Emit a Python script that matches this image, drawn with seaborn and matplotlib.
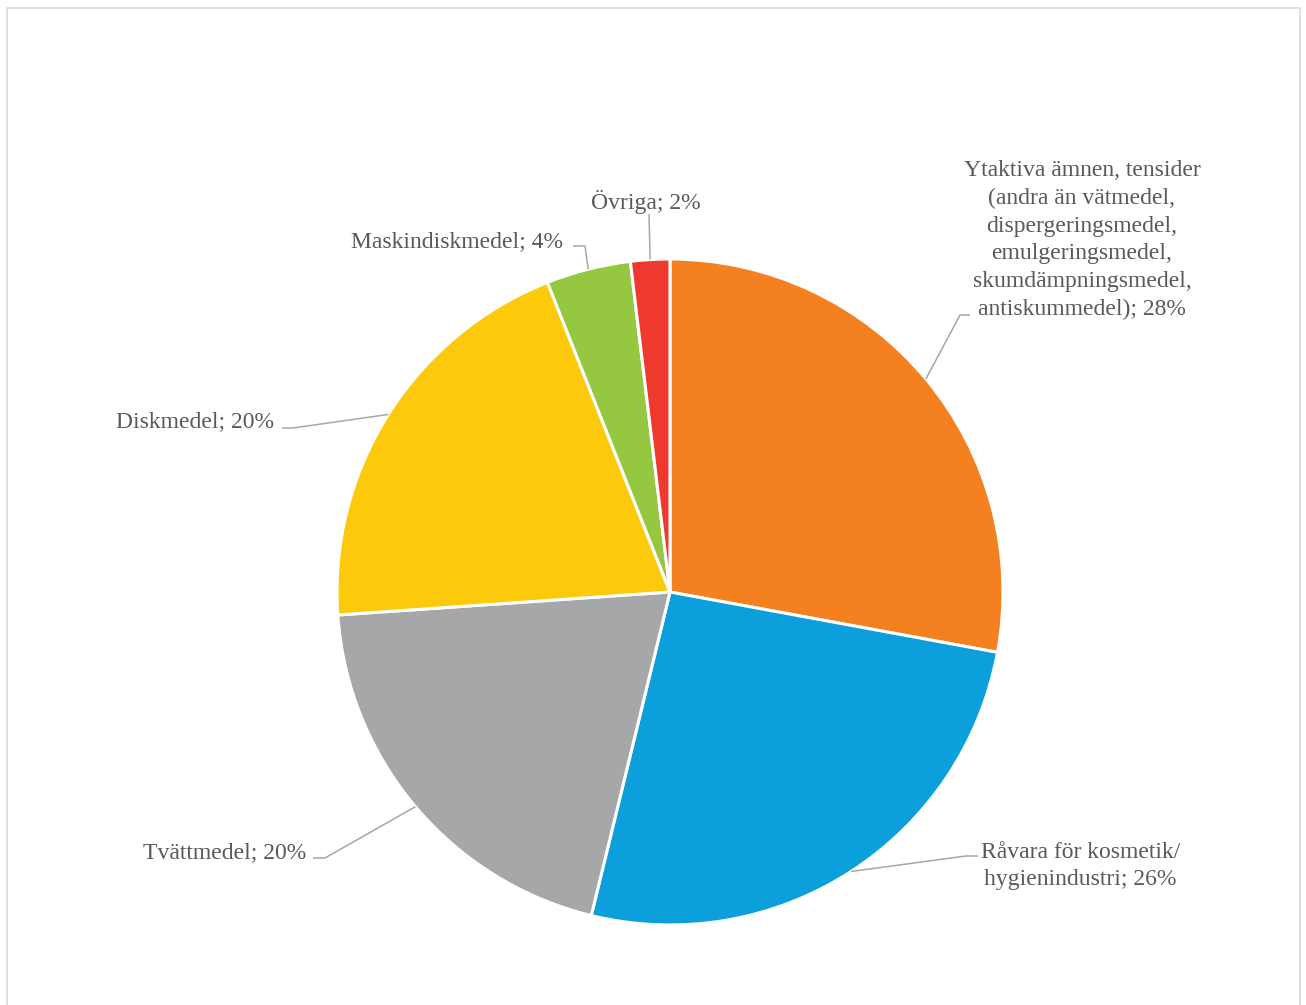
import numpy as np
import matplotlib
matplotlib.use('Agg')
import matplotlib.pyplot as plt
from matplotlib.patches import Rectangle
import seaborn as sns

sns.set_theme(style='white')
plt.rcParams['font.family'] = ['Liberation Serif', 'DejaVu Serif']

# data
categories = ['Ytaktiva ämnen, tensider\n(andra än vätmedel,\ndispergeringsmedel,\nemulgeringsmedel,\nskumdämpningsmedel,\nantiskummedel)',
              'Råvara för kosmetik/\nhygienindustri',
              'Tvättmedel',
              'Diskmedel',
              'Maskindiskmedel',
              'Övriga']
shares = [27.9, 25.9, 20.1, 20.1, 4.1, 1.9]
colors = ['#F58020', '#0B9FDB', '#A6A7A9', '#FCC90B', '#95C840', '#EE3A2E']

# label layout (pixel coords): text anchor, ha, elbow point, line end
label_layout = [
    dict(xy=(1082, 240), ha='center', elbow=(960, 315), end=(970, 315)),
    dict(xy=(981, 866), ha='left', elbow=(966, 856), end=(978, 856)),
    dict(xy=(306, 853), ha='right', elbow=(325, 858), end=(313, 858)),
    dict(xy=(274, 422), ha='right', elbow=(293, 428), end=(282, 428)),
    dict(xy=(563, 242), ha='right', elbow=(585, 246), end=(573, 246)),
    dict(xy=(646, 202), ha='center', elbow=(649, 214), end=(649, 214)),
]

W, H = 1306, 1005
fig = plt.figure(figsize=(W / 100, H / 100), dpi=100)
ax = fig.add_axes([0, 0, 1, 1])

text_col = '#595959'
line_col = '#A6A6A6'

wedges, _ = ax.pie(shares, colors=colors, startangle=-90, counterclock=True,
                   center=(670, 592), radius=333,
                   wedgeprops=dict(edgecolor='white', linewidth=2.2))

ax.set_xlim(0, W)
ax.set_ylim(H, 0)
ax.set_aspect('equal')
ax.axis('off')

for w, name, val, lay in zip(wedges, categories, shares, label_layout):
    mid = np.deg2rad((w.theta1 + w.theta2) / 2)
    cx, cy = w.center
    px, py = cx + w.r * np.cos(mid), cy + w.r * np.sin(mid)
    ex, ey = lay['elbow']
    lx, ly = lay['end']
    ax.plot([px, ex, lx], [py, ey, ly], color=line_col, lw=1.1, solid_capstyle='butt')
    ax.text(lay['xy'][0], lay['xy'][1], f'{name}; {round(val):.0f}%', ha=lay['ha'], va='center',
            multialignment='center', fontsize=17, color=text_col, linespacing=1.41)

fig.patches.append(Rectangle((7 / W, -0.01), (1300 - 7) / W, (H - 8) / H + 0.01,
                             transform=fig.transFigure, fill=False, edgecolor='#D9D9D9', lw=1.2))

fig.savefig('out.png', dpi=100)
